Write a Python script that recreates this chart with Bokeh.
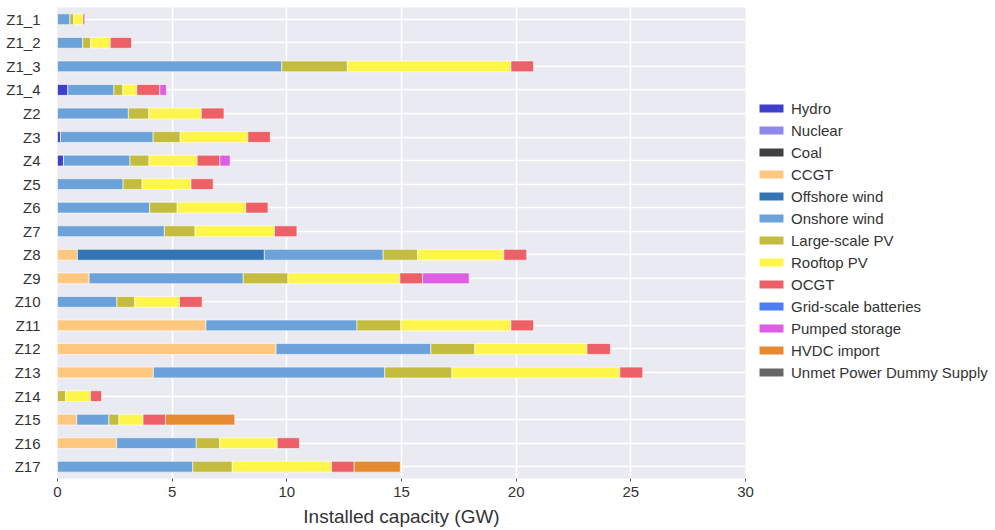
from bokeh.plotting import figure
from bokeh.models import ColumnDataSource, FactorRange, Range1d, Legend, LegendItem, FixedTicker
from bokeh.layouts import row
from bokeh.embed import file_html
from bokeh.resources import INLINE

zones = ["Z1_1", "Z1_2", "Z1_3", "Z1_4", "Z2", "Z3", "Z4", "Z5", "Z6", "Z7",
         "Z8", "Z9", "Z10", "Z11", "Z12", "Z13", "Z14", "Z15", "Z16", "Z17"]

techs = ["Hydro", "Nuclear", "Coal", "CCGT", "Offshore wind", "Onshore wind",
         "Large-scale PV", "Rooftop PV", "OCGT", "Grid-scale batteries",
         "Pumped storage", "HVDC import", "Unmet Power Dummy Supply"]

colors = ["#3f3fcc", "#9189ea", "#404040", "#ffc880", "#3274b4", "#6ca2da",
          "#c4bc3e", "#fff64c", "#ee6068", "#4a7ef2", "#dd5ee4", "#e68a32", "#666666"]

hydro     = [0, 0, 0, 0.45, 0, 0.13, 0.26, 0, 0, 0, 0, 0, 0, 0, 0, 0, 0, 0, 0, 0]
nuclear   = [0] * 20
coal      = [0] * 20
ccgt      = [0, 0, 0, 0, 0, 0, 0, 0, 0, 0, 0.87, 1.38, 0, 6.47, 9.53, 4.18, 0, 0.84, 2.58, 0]
offshore  = [0, 0, 0, 0, 0, 0, 0, 0, 0, 0, 8.15, 0, 0, 0, 0, 0, 0, 0, 0, 0]
onshore   = [0.54, 1.10, 9.78, 2.01, 3.09, 4.04, 2.90, 2.86, 4.02, 4.66,
             5.18, 6.72, 2.59, 6.59, 6.75, 10.09, 0, 1.40, 3.47, 5.90]
large_pv  = [0.17, 0.35, 2.86, 0.39, 0.89, 1.18, 0.83, 0.83, 1.20, 1.34,
             1.50, 1.95, 0.78, 1.91, 1.92, 2.93, 0.35, 0.44, 1.02, 1.72]
rooftop   = [0.40, 0.85, 7.13, 0.61, 2.29, 2.95, 2.10, 2.13, 2.99, 3.46,
             3.76, 4.88, 1.95, 4.80, 4.89, 7.32, 1.09, 1.05, 2.51, 4.33]
ocgt      = [0.08, 0.93, 0.99, 1.00, 0.99, 0.98, 0.99, 0.97, 0.97, 0.98,
             1.00, 0.99, 0.99, 0.99, 1.02, 1.00, 0.48, 0.98, 0.97, 0.99]
batteries = [0] * 20
pumped    = [0, 0, 0, 0.29, 0, 0, 0.45, 0, 0, 0, 0, 2.03, 0, 0, 0, 0, 0, 0, 0, 0]
hvdc      = [0, 0, 0, 0, 0, 0, 0, 0, 0, 0, 0, 0, 0, 0, 0, 0, 0, 3.02, 0, 2.01]
unmet     = [0] * 20

series = [hydro, nuclear, coal, ccgt, offshore, onshore, large_pv, rooftop,
          ocgt, batteries, pumped, hvdc, unmet]

x_ticks = [0, 5, 10, 15, 20, 25, 30]

FONT = "Liberation Sans"
TXT = "#333333"

p = figure(y_range=FactorRange(factors=list(reversed(zones)), range_padding=0),
           x_range=Range1d(0, 30),
           width=755, height=530,
           output_backend="svg", toolbar_location=None,
           min_border_left=57, min_border_top=7, min_border_bottom=52, min_border_right=10)
p.background_fill_color = "#eaeaf2"
p.border_fill_color = "white"
p.outline_line_color = None

# legend-only figure (its bars lie outside its view; only the legend shows)
lg = figure(y_range=FactorRange(factors=list(reversed(zones))), x_range=Range1d(100, 101),
            width=240, height=530, output_backend="svg", toolbar_location=None,
            x_axis_location=None, y_axis_location=None,
            min_border_left=0, min_border_right=0, min_border_top=0, min_border_bottom=0)
lg.grid.visible = False
lg.outline_line_color = None
lg.background_fill_color = "white"
lg.border_fill_color = "white"

base = [0.0] * len(zones)
items = []
for name, vals, col in zip(techs, series, colors):
    ys, lefts, rights = [], [], []
    all_left, all_right = [], []
    for i, z in enumerate(zones):
        all_left.append(base[i])
        all_right.append(base[i] + vals[i])
        if vals[i] > 0:
            ys.append(z)
            lefts.append(base[i])
            rights.append(base[i] + vals[i])
        base[i] += vals[i]
    src = ColumnDataSource(dict(y=ys, left=lefts, right=rights))
    p.hbar(y="y", left="left", right="right", height=0.46, source=src,
           fill_color=col, line_color="white", line_alpha=0.6, line_width=1)
    full = ColumnDataSource(dict(y=zones, left=all_left, right=all_right))
    r = lg.hbar(y="y", left="left", right="right", height=0, source=full,
                fill_color=col, line_color=None)
    items.append(LegendItem(label=name, renderers=[r]))

legend = Legend(items=items, location=(1, 96), border_line_color=None,
                background_fill_alpha=0, glyph_width=30, glyph_height=10,
                label_text_font=FONT, label_text_font_size="15px", label_text_color=TXT,
                label_height=20, spacing=2, label_standoff=5, padding=0, margin=0)
lg.add_layout(legend, "center")

p.xaxis.ticker = FixedTicker(ticks=x_ticks)
p.xaxis.axis_line_color = None
p.xaxis.major_tick_line_color = "#555555"
p.xaxis.major_tick_in = 0
p.xaxis.major_tick_out = 3
p.xaxis.minor_tick_line_color = None
p.xaxis.major_label_text_font = FONT
p.xaxis.major_label_text_font_size = "15px"
p.xaxis.major_label_text_color = TXT
p.xaxis.major_label_standoff = 5
p.xaxis.axis_label = "Installed capacity (GW)"
p.xaxis.axis_label_text_font = FONT
p.xaxis.axis_label_text_font_size = "19px"
p.xaxis.axis_label_text_font_style = "normal"
p.xaxis.axis_label_text_color = TXT
p.xaxis.axis_label_standoff = 6

p.yaxis.axis_line_color = None
p.yaxis.major_tick_line_color = None
p.yaxis.minor_tick_line_color = None
p.yaxis.major_label_text_font = FONT
p.yaxis.major_label_text_font_size = "15px"
p.yaxis.major_label_text_color = TXT
p.yaxis.major_label_standoff = 11

p.xgrid.grid_line_color = "white"
p.xgrid.grid_line_width = 1.5
p.ygrid.grid_line_color = "white"
p.ygrid.grid_line_width = 1.5

layout = row(p, lg)
open("out.html", "w").write(file_html(layout, INLINE))
